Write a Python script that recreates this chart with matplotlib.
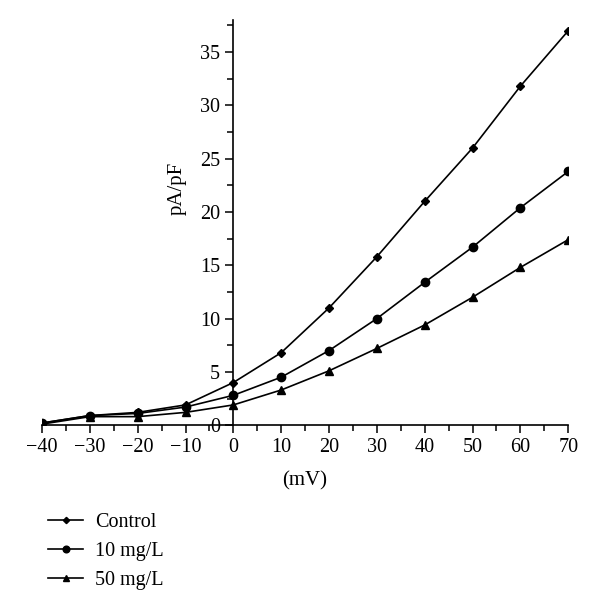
import numpy as np
import matplotlib
matplotlib.use("Agg")
import matplotlib.pyplot as plt
from matplotlib.ticker import MultipleLocator

plt.rcParams['font.family'] = ['Liberation Serif', 'DejaVu Serif']

# membrane potential (mV)
voltage = [-40, -30, -20, -10, 0, 10, 20, 30, 40, 50, 60, 70]

# current density (pA/pF)
control = [0.2, 0.9, 1.2, 1.9, 4.0, 6.8, 11.0, 15.8, 21.0, 26.0, 31.8, 37.0]
dose_10 = [0.2, 0.9, 1.1, 1.7, 2.8, 4.5, 7.0, 10.0, 13.4, 16.7, 20.4, 23.8]
dose_50 = [0.1, 0.8, 0.8, 1.2, 1.9, 3.3, 5.1, 7.2, 9.4, 12.0, 14.8, 17.4]

series_labels = ["Control", "10 mg/L", "50 mg/L"]

fig = plt.figure(figsize=(6, 6.1), dpi=100)
ax = fig.add_axes([0.07, 0.303, 0.877, 0.664])

ax.plot(voltage, control, color='black', lw=1.2, marker='D', ms=4, label=series_labels[0])
ax.plot(voltage, dose_10, color='black', lw=1.2, marker='o', ms=6, label=series_labels[1])
ax.plot(voltage, dose_50, color='black', lw=1.2, marker='^', ms=6, label=series_labels[2])

ax.set_xlim(-40, 70)
ax.set_ylim(0, 38)

# y axis through x = 0
ax.spines['left'].set_position(('data', 0))
ax.spines['right'].set_visible(False)
ax.spines['top'].set_visible(False)
for s in ['left', 'bottom']:
    ax.spines[s].set_linewidth(1.2)

ax.xaxis.set_major_locator(MultipleLocator(10))
ax.xaxis.set_minor_locator(MultipleLocator(5))
ax.yaxis.set_major_locator(MultipleLocator(5))
ax.yaxis.set_minor_locator(MultipleLocator(2.5))
ax.tick_params(which='both', direction='out', width=1.1, labelsize=14.5)
ax.tick_params(which='major', length=6)
ax.tick_params(which='minor', length=4)

ax.set_xticks(range(-40, 71, 10))
ax.set_xticklabels(['\u221240', '\u221230', '\u221220', '\u221210', '0', '10', '20',
                    '30', '40', '50', '60', '70'])

ax.set_xlabel("(mV)", fontsize=15, labelpad=10)
ax.set_ylabel("pA/pF", fontsize=15)
ax.yaxis.set_label_coords(0.275, 0.585)

leg = ax.legend(loc='upper left', bbox_to_anchor=(48 / 600, 1 - 513 / 610),
                bbox_transform=fig.transFigure, borderaxespad=0, borderpad=0,
                frameon=False, fontsize=14.5, handlelength=1.75, markerscale=0.8,
                labelspacing=0.5, handletextpad=0.6)

fig.savefig("out.png", dpi=100)
